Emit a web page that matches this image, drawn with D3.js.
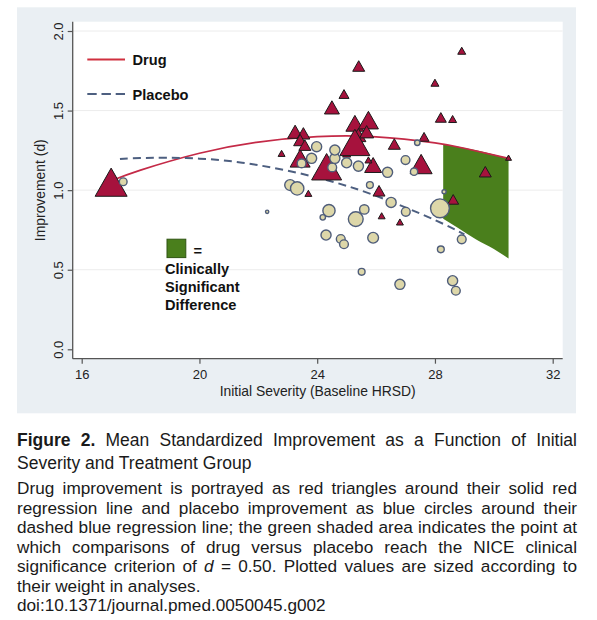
<!DOCTYPE html>
<html>
<head>
<meta charset="utf-8">
<script src="https://cdn.jsdelivr.net/npm/d3@7"></script>
<style>
  body { margin: 0; background: #fff; width: 597px; height: 620px; overflow: hidden; position: relative; }
  svg { position: absolute; left: 0; top: 0; }
  .cap { position: absolute; left: 17px; width: 560px; color: #1a1a1a; font-family: "Liberation Sans", Arial, sans-serif; }
  .cap div { white-space: nowrap; text-align: justify; text-align-last: justify; }
  .cap div.last { text-align-last: left; }
</style>
</head>
<body>
<script>
// drug arm: red triangles
var drugSeverity    = [17.0, 28.91, 25.41, 28.0, 24.91, 24.50, 28.20, 28.60, 27.63, 26.62, 27.53, 29.71, 30.5, 25.90, 26.10, 28.62, 24.32,
                       23.42, 25.0, 25.28, 25.74, 25.40, 25.68, 25.28, 23.25, 23.53, 23.42, 23.58, 22.79, 23.70, 25.74, 26.19, 26.81];
var drugImprovement = [1.05, 1.876, 1.78, 1.675, 1.604, 1.52, 1.457, 1.447, 1.335, 1.29, 1.164, 1.116, 1.204, 1.158, 0.996, 0.942, 1.147,
                       1.20, 1.23, 1.42, 1.44, 1.346, 1.367, 1.30, 1.367, 1.357, 1.315, 1.283, 1.231, 0.98, 1.19, 0.839, 0.80];
var drugWeight      = [256, 16, 36, 16, 25, 56, 30, 16, 25, 36, 121, 36, 9, 72, 36, 30, 225,
                       100, 16, 81, 100, 56, 49, 225, 56, 42, 42, 36, 12, 12, 12, 12, 12];

// placebo arm: beige circles
var placeboSeverity    = [17.41, 22.30, 23.08, 23.32, 24.40, 24.19, 25.31, 25.60, 24.30, 24.80, 24.91, 25.90, 25.51, 26.81, 28.60, 28.71, 28.20, 28.91,
                          28.17, 28.31, 27.01, 26.51, 25.79, 26.39, 27.29, 27.0, 23.98, 23.81, 23.47, 24.51, 24.6, 24.6, 25.0, 25.40, 27.40];
var placeboImprovement = [1.053, 0.864, 1.032, 1.011, 0.871, 0.829, 0.818, 0.879, 0.718, 0.693, 0.66, 0.701, 0.487, 0.408, 0.431, 0.368, 0.628, 0.691,
                          0.886, 0.99, 0.864, 0.923, 1.032, 1.112, 1.116, 1.189, 1.273, 1.20, 1.168, 1.143, 1.20, 1.252, 1.172, 1.151, 1.298];
var placeboWeight      = [20, 5, 36, 53, 45, 11, 64, 28, 32, 25, 25, 36, 16, 32, 32, 25, 16, 25,
                          100, 7, 25, 32, 16, 32, 18, 25, 32, 32, 25, 25, 32, 32, 32, 32, 11];

// regression lines
var drugFitX    = [17.0, 18, 20, 22, 24, 26, 28, 29, 30.5];
var drugFitY    = [1.059, 1.126, 1.232, 1.302, 1.336, 1.335, 1.297, 1.263, 1.20];
var placeboFitX = [17.3, 18, 20, 22, 24, 26, 28, 29.0];
var placeboFitY = [1.195, 1.202, 1.198, 1.157, 1.079, 0.964, 0.812, 0.722];

// clinically significant region (drug - placebo >= 0.5)
var sigX     = [28.28, 28.8, 29.4, 30.0, 30.5];
var sigUpper = [1.289, 1.272, 1.250, 1.224, 1.20];
var sigLower = [0.82, 0.76, 0.69, 0.63, 0.571];

var xTicks = [16, 20, 24, 28, 32];
var yTicks = [0.0, 0.5, 1.0, 1.5, 2.0];

var W = 597, H = 620;
var plot = { left: 72.7, right: 562.7, top: 21.7, bottom: 358.7 };

var svg = d3.select("body").append("svg").attr("width", W).attr("height", H);

svg.append("rect").attr("x", 17).attr("y", 7.3).attr("width", 559).attr("height", 406)
  .attr("fill", "#eaeff3");
svg.append("rect").attr("x", plot.left).attr("y", plot.top)
  .attr("width", plot.right - plot.left).attr("height", plot.bottom - plot.top)
  .attr("fill", "#fff");

var x = d3.scaleLinear().domain([16, 32]).range([81.7, 552.7]);
var y = d3.scaleLinear().domain([0, 2]).range([349.3, 31]);
var size = d3.scaleSqrt().domain([0, 100]).range([0, 10]);

// grid
svg.append("g").selectAll("line").data(yTicks.filter(function(d) { return d > 0; }))
  .enter().append("line")
  .attr("x1", plot.left).attr("x2", plot.right)
  .attr("y1", function(d) { return y(d); }).attr("y2", function(d) { return y(d); })
  .attr("stroke", "#ececec").attr("stroke-width", 1);

// axes
var font = "'Liberation Sans', Arial, sans-serif";
var xAxis = svg.append("g").attr("transform", "translate(0," + plot.bottom + ")")
  .call(d3.axisBottom(x).tickValues(xTicks).tickSize(5).tickSizeOuter(0).tickFormat(d3.format("d")));
var yAxis = svg.append("g").attr("transform", "translate(" + plot.left + ",0)")
  .call(d3.axisLeft(y).tickValues(yTicks).tickSize(5).tickSizeOuter(0).tickFormat(d3.format(".1f")));
[xAxis, yAxis].forEach(function(g) {
  g.select(".domain").remove();
  g.selectAll(".tick line").attr("stroke", "#555").attr("stroke-width", 1.2);
  g.selectAll("text").attr("fill", "#222").style("font-family", font).style("font-size", "13px");
});
xAxis.selectAll("text").attr("dy", null).attr("y", 20.3);
yAxis.selectAll("text").attr("x", null).attr("dy", null)
  .attr("text-anchor", "middle")
  .attr("transform", "translate(-10,0) rotate(-90)");

svg.append("line").attr("x1", plot.left).attr("x2", plot.right)
  .attr("y1", plot.bottom).attr("y2", plot.bottom).attr("stroke", "#555").attr("stroke-width", 1.3);
svg.append("line").attr("x1", plot.left).attr("x2", plot.left)
  .attr("y1", plot.top).attr("y2", plot.bottom).attr("stroke", "#555").attr("stroke-width", 1.3);

svg.append("text").attr("x", 317.7).attr("y", 395.6)
  .attr("text-anchor", "middle").style("font-family", font).style("font-size", "13.9px").attr("fill", "#222")
  .text("Initial Severity (Baseline HRSD)");
svg.append("text").attr("transform", "translate(45," + ((plot.top + plot.bottom) / 2) + ") rotate(-90)")
  .attr("text-anchor", "middle").style("font-family", font).style("font-size", "13.9px").attr("fill", "#222")
  .text("Improvement (d)");

// green area
var sig = sigX.map(function(d, i) { return { x: d, hi: sigUpper[i], lo: sigLower[i] }; });
svg.append("path").datum(sig)
  .attr("d", d3.area().x(function(d) { return x(d.x); })
    .y0(function(d) { return y(d.lo); }).y1(function(d) { return y(d.hi); }).curve(d3.curveMonotoneX))
  .attr("fill", "#4a7f1c");

// fit lines
var line = d3.line().x(function(d) { return x(d[0]); }).y(function(d) { return y(d[1]); }).curve(d3.curveNatural);
svg.append("path").datum(d3.zip(drugFitX, drugFitY)).attr("d", line)
  .attr("fill", "none").attr("stroke", "#c42a47").attr("stroke-width", 1.7);
svg.append("path").datum(d3.zip(placeboFitX, placeboFitY)).attr("d", line)
  .attr("fill", "none").attr("stroke", "#4d5f80").attr("stroke-width", 2).attr("stroke-dasharray", "8,5");

// triangles
var drug = drugSeverity.map(function(d, i) { return { x: d, y: drugImprovement[i], w: drugWeight[i] }; });
svg.append("g").selectAll("path").data(drug).enter().append("path")
  .attr("d", function(d) {
    var s = 2 * size(d.w), h = s * 0.88, cx = x(d.x), cy = y(d.y);
    return "M" + cx + "," + (cy - h / 2) + "L" + (cx + s / 2) + "," + (cy + h / 2) + "L" + (cx - s / 2) + "," + (cy + h / 2) + "Z";
  })
  .attr("fill", "#a6123d").attr("stroke", "#1a1a1a").attr("stroke-width", 1).attr("stroke-linejoin", "miter");

// circles
var placebo = placeboSeverity.map(function(d, i) { return { x: d, y: placeboImprovement[i], w: placeboWeight[i] }; });
svg.append("g").selectAll("circle").data(placebo).enter().append("circle")
  .attr("cx", function(d) { return x(d.x); }).attr("cy", function(d) { return y(d.y); })
  .attr("r", function(d) { return size(d.w) - 0.6; })
  .attr("fill", "#ddd7a9").attr("stroke", "#4f5d7a").attr("stroke-width", 1.4);

// legend
var lg = svg.append("g").style("font-family", font).style("font-weight", "bold").style("font-size", "14.6px").attr("fill", "#111");
lg.append("line").attr("x1", 87.3).attr("x2", 125).attr("y1", 59.5).attr("y2", 59.5)
  .attr("stroke", "#d0303f").attr("stroke-width", 2);
lg.append("text").attr("x", 132.5).attr("y", 65).text("Drug");
lg.append("line").attr("x1", 87.3).attr("x2", 125).attr("y1", 94).attr("y2", 94)
  .attr("stroke", "#4d5f80").attr("stroke-width", 2).attr("stroke-dasharray", "9.4,4.8");
lg.append("text").attr("x", 132.5).attr("y", 100).text("Placebo");
lg.append("rect").attr("x", 167).attr("y", 239.2).attr("width", 18.8).attr("height", 18.4)
  .attr("fill", "#4a7f1c").attr("stroke", "#2f5512").attr("stroke-width", 1);
lg.append("text").attr("x", 193.5).attr("y", 256).text("=");
lg.append("text").attr("x", 165).attr("y", 274).text("Clinically");
lg.append("text").attr("x", 165).attr("y", 292).text("Significant");
lg.append("text").attr("x", 165).attr("y", 310).text("Difference");

// caption
var titleLines = [
  ["<b>Figure 2.</b> Mean Standardized Improvement as a Function of Initial", false],
  ["Severity and Treatment Group", true]
];
var bodyLines = [
  ["Drug improvement is portrayed as red triangles around their solid red", false],
  ["regression line and placebo improvement as blue circles around their", false],
  ["dashed blue regression line; the green shaded area indicates the point at", false],
  ["which comparisons of drug versus placebo reach the NICE clinical", false],
  ["significance criterion of <i>d</i> = 0.50. Plotted values are sized according to", false],
  ["their weight in analyses.", true],
  ["doi:10.1371/journal.pmed.0050045.g002", true]
];
var cap1 = d3.select("body").append("div").attr("class", "cap")
  .style("top", "429px").style("font-size", "17.5px").style("line-height", "23.3px");
cap1.selectAll("div").data(titleLines).enter().append("div")
  .classed("last", function(d) { return d[1]; }).html(function(d) { return d[0]; });
var cap2 = d3.select("body").append("div").attr("class", "cap")
  .style("top", "479.4px").style("font-size", "17.2px").style("line-height", "19.5px");
cap2.selectAll("div").data(bodyLines).enter().append("div")
  .classed("last", function(d) { return d[1]; }).html(function(d) { return d[0]; });
</script>
</body>
</html>
